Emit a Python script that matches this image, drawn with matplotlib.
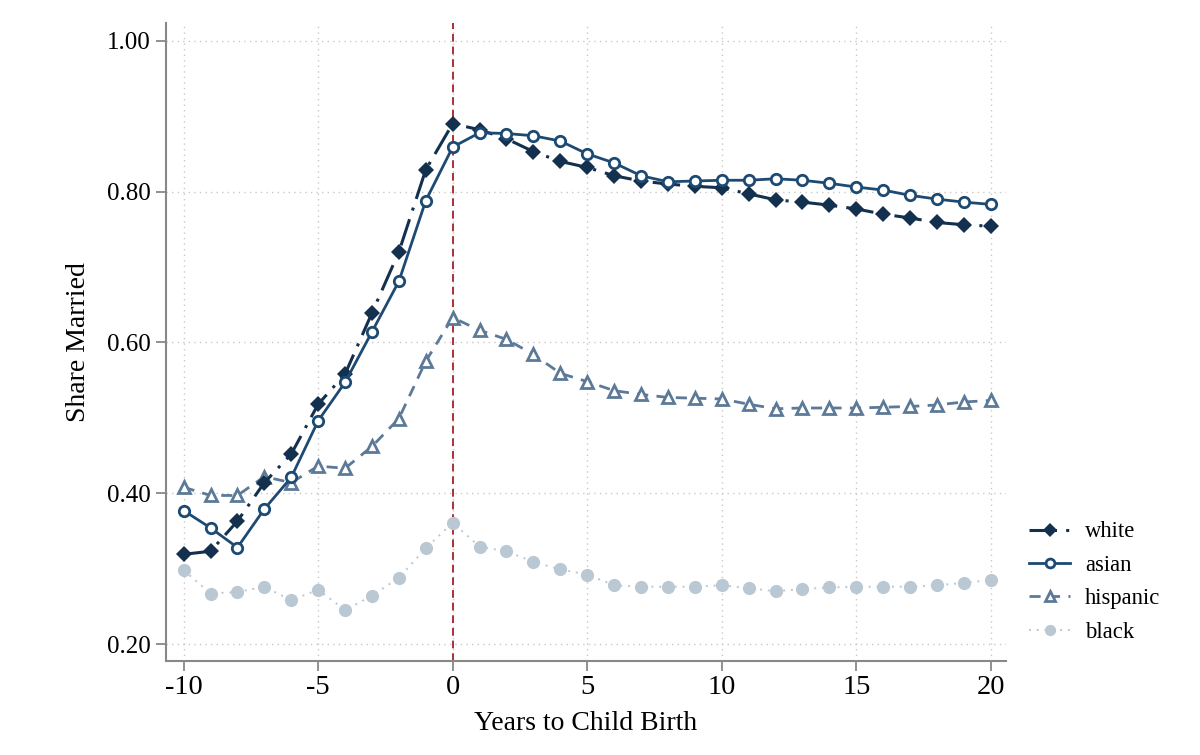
"""Share married around first child birth, by race."""

import matplotlib
matplotlib.use("Agg")
import matplotlib.pyplot as plt
import numpy as np

plt.rcParams["font.family"] = ["Liberation Serif", "DejaVu Serif"]

years = list(range(-10, 21))

white = [0.319, 0.323, 0.363, 0.414, 0.452, 0.518, 0.558, 0.639, 0.720, 0.829,
         0.890, 0.882, 0.870, 0.853, 0.840, 0.832, 0.821, 0.814, 0.810, 0.807,
         0.805, 0.797, 0.789, 0.786, 0.782, 0.777, 0.770, 0.765, 0.759, 0.756,
         0.754]
asian = [0.377, 0.354, 0.328, 0.379, 0.421, 0.496, 0.547, 0.614, 0.681, 0.788,
         0.859, 0.878, 0.877, 0.874, 0.867, 0.850, 0.838, 0.821, 0.813, 0.814,
         0.815, 0.815, 0.817, 0.815, 0.811, 0.806, 0.802, 0.795, 0.790, 0.786,
         0.783]
hispanic = [0.408, 0.397, 0.397, 0.422, 0.414, 0.436, 0.433, 0.462, 0.499, 0.575,
            0.633, 0.616, 0.604, 0.584, 0.559, 0.548, 0.536, 0.531, 0.527, 0.526,
            0.525, 0.518, 0.512, 0.513, 0.513, 0.513, 0.514, 0.515, 0.517, 0.521,
            0.523]
black = [0.298, 0.267, 0.269, 0.276, 0.258, 0.272, 0.245, 0.264, 0.288, 0.327,
         0.361, 0.329, 0.323, 0.309, 0.299, 0.292, 0.278, 0.276, 0.276, 0.276,
         0.278, 0.274, 0.270, 0.273, 0.275, 0.276, 0.276, 0.276, 0.278, 0.281,
         0.285]

x_ticks = [-10, -5, 0, 5, 10, 15, 20]
y_ticks = [0.2, 0.4, 0.6, 0.8, 1.0]

fig = plt.figure(figsize=(12, 7.55), dpi=100)
ax = fig.add_axes([0.138, 0.125, 0.7, 0.845])

ax.grid(True, color="#c8c8c8", linestyle=(0, (1, 3)), linewidth=1.0)
ax.set_axisbelow(True)

ax.axvline(0, color="#a8323a", linestyle=(0, (4, 2.5)), linewidth=1.4, zorder=1)

ax.plot(years, black, color="#bac8d4", linestyle=(0, (1, 3)), linewidth=1.4,
        marker="o", markersize=9.5, markeredgewidth=0, label="black", zorder=2)
ax.plot(years, hispanic, color="#5c7a98", linestyle=(0, (4, 3)), linewidth=2.0,
        marker="^", markersize=8, markerfacecolor="white", markeredgewidth=2.0,
        label="hispanic", zorder=3)
ax.plot(years, white, color="#14304f", linestyle=(0, (9, 3, 1, 3)), linewidth=2.2,
        marker="D", markersize=8, markeredgewidth=0, label="white", zorder=4)
ax.plot(years, asian, color="#1d4a73", linestyle="-", linewidth=2.0,
        marker="o", markersize=7.5, markerfacecolor="white", markeredgewidth=2.0,
        label="asian", zorder=5)

ax.set_xlim(-10.67, 20.55)
ax.set_ylim(0.178, 1.024)
ax.set_xticks(x_ticks)
ax.set_yticks(y_ticks)
ax.set_xticklabels([str(t) for t in x_ticks], fontsize=20.5)
ax.set_yticklabels([f"{t:.2f}" for t in y_ticks], fontsize=18)

for side in ("top", "right"):
    ax.spines[side].set_visible(False)
for side in ("left", "bottom"):
    ax.spines[side].set_color("#888888")
    ax.spines[side].set_linewidth(1.5)
ax.tick_params(axis="both", colors="#888888", labelcolor="black", length=7, width=1.3)

ax.set_xlabel("Years to Child Birth", fontsize=20, labelpad=8)
ax.set_ylabel("Share Married", fontsize=20, labelpad=12)

handles, labels = ax.get_legend_handles_labels()
order = [2, 3, 1, 0]
ax.legend([handles[i] for i in order], [labels[i] for i in order],
          loc="center left", bbox_to_anchor=(1.004, 0.123), frameon=False,
          fontsize=16.3, handlelength=1.8, labelspacing=0.55, handletextpad=0.65,
          markerscale=0.85)

fig.savefig("out.png", dpi=100)
